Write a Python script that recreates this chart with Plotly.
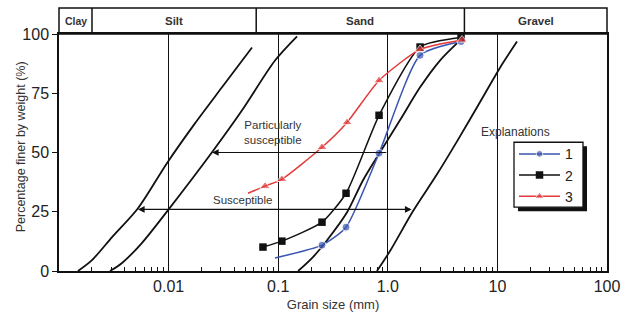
import numpy as np
import plotly.graph_objects as go

# ---------------- data ----------------
# sample curves (grain size mm, % finer); first point of 1 and 3 is the line start (no marker)
s1_x = [0.0935, 0.251, 0.416, 0.832, 1.97, 4.66]
s1_y = [5.5, 10.9, 18.5, 49.7, 91.0, 96.8]
s2_x = [0.0726, 0.108, 0.251, 0.416, 0.832, 1.97, 4.66]
s2_y = [10.1, 12.6, 20.6, 32.8, 65.7, 94.5, 98.5]
s3_x = [0.053, 0.0759, 0.108, 0.251, 0.425, 0.832, 1.97, 4.75]
s3_y = [32.8, 35.8, 38.7, 52.2, 62.7, 80.4, 93.5, 97.5]

# envelope curves
envA_x = [0.00149, 0.0020, 0.00305, 0.00526, 0.00966, 0.0174, 0.0307, 0.0577]
envA_y = [0, 4.6, 14.3, 26.5, 45.5, 62.3, 77.5, 94.3]
envB_x = [0.00292, 0.00376, 0.0057, 0.00989, 0.0249, 0.0468, 0.0935, 0.1486]
envB_y = [0, 3.4, 11.8, 25.7, 50.1, 67.8, 88.8, 99.0]
envC_x = [0.152, 0.2075, 0.279, 0.425, 0.594, 0.849, 1.29, 1.97, 2.99, 4.56]
envC_y = [0, 5.9, 13.0, 24.8, 38.3, 50.1, 63.6, 77.5, 88.8, 97.3]
envD_x = [0.796, 1.047, 1.70, 2.81, 4.28, 6.93, 10.6, 15.1]
envD_y = [0, 8.4, 25.3, 40.8, 54.7, 71.2, 85.9, 96.8]

# soil classes (boundaries in mm)
class_names = ["Clay", "Silt", "Sand", "Gravel"]
class_bounds = [0.001, 0.002, 0.063, 5.0, 100]

# arrows: (x_from, x_to, y)
arrow_part = [1.0, 0.0249, 50]
arrow_susc = [1.70, 0.00526, 26]

x_ticks = [0.01, 0.1, 1, 10, 100]
x_ticktext = ["0.01", "0.1", "1.0", "10", "100"]
y_ticks = [0, 25, 50, 75, 100]
minor_vals = [m * 10.0 ** e for e in range(-3, 2) for m in range(2, 10)]

BLUE = "#3a55b0"
RED = "#e23a3a"
BLACK = "#111111"
FONT = "Liberation Sans, Arial, sans-serif"

fig = go.Figure()

for ex, ey in [(envA_x, envA_y), (envB_x, envB_y), (envC_x, envC_y), (envD_x, envD_y)]:
    fig.add_trace(go.Scatter(x=ex, y=ey, mode="lines", showlegend=False,
                             line=dict(color=BLACK, width=1.8, shape="spline", smoothing=0.8),
                             hoverinfo="skip"))

fig.add_trace(go.Scatter(x=s1_x, y=s1_y, mode="lines+markers", name="1",
                         line=dict(color=BLUE, width=1.5, shape="spline", smoothing=0.6),
                         marker=dict(symbol="circle", size=[0] + [8] * (len(s1_x) - 1), color=BLUE)))
fig.add_trace(go.Scatter(x=s2_x, y=s2_y, mode="lines+markers", name="2",
                         line=dict(color=BLACK, width=1.5, shape="spline", smoothing=0.6),
                         marker=dict(symbol="square", size=7.5, color=BLACK)))
fig.add_trace(go.Scatter(x=s3_x, y=s3_y, mode="lines+markers", name="3",
                         line=dict(color=RED, width=1.5, shape="spline", smoothing=0.6),
                         marker=dict(symbol="triangle-up", size=[0] + [9] * (len(s3_x) - 1), color=RED)))

# header band
HB = 1.1095
shapes = [dict(type="rect", xref="paper", yref="paper", x0=0, x1=1, y0=1, y1=HB,
               line=dict(color=BLACK, width=1.5), fillcolor="rgba(0,0,0,0)")]
for b in class_bounds[1:-1]:
    shapes.append(dict(type="line", xref="x", yref="paper", x0=b, x1=b, y0=1, y1=HB,
                       line=dict(color=BLACK, width=1.5)))
# legend box with drop shadow
shapes.append(dict(type="rect", xref="paper", yref="paper", x0=0.8376, x1=0.9635, y0=0.2526, y1=0.5263,
                   fillcolor=BLACK, line=dict(width=0), layer="above"))
shapes.append(dict(type="rect", xref="paper", yref="paper", x0=0.8303, x1=0.9562, y0=0.2695, y1=0.5432,
                   fillcolor="white", line=dict(color=BLACK, width=1.3), layer="above"))

annotations = []
for i, nm in enumerate(class_names):
    c = (np.log10(class_bounds[i]) + np.log10(class_bounds[i + 1])) / 2
    annotations.append(dict(x=c, y=(1 + HB) / 2, xref="x", yref="paper", yanchor="middle",
                            text=f"<b>{nm}</b>", showarrow=False,
                            font=dict(family=FONT, size=11.5 if nm != "Clay" else 10.5, color="#333")))

annotations.append(dict(x=np.log10(arrow_part[1]), y=arrow_part[2], ax=np.log10(arrow_part[0]), ay=arrow_part[2],
                        xref="x", yref="y", axref="x", ayref="y", text="", showarrow=True,
                        arrowhead=2, arrowsize=1.2, arrowwidth=1.1, arrowcolor=BLACK))
annotations.append(dict(x=np.log10(arrow_susc[1]), y=arrow_susc[2], ax=np.log10(arrow_susc[0]), ay=arrow_susc[2],
                        xref="x", yref="y", axref="x", ayref="y", text="", showarrow=True, arrowside="end+start",
                        arrowhead=2, startarrowhead=2, arrowsize=1.2, startarrowsize=1.2,
                        arrowwidth=1.1, arrowcolor=BLACK))
annotations.append(dict(x=-1.047, y=58.5, xref="x", yref="y", text="Particularly<br>susceptible",
                        showarrow=False, font=dict(family=FONT, size=11.5, color="#333")))
annotations.append(dict(x=-1.33, y=29.9, xref="x", yref="y", text="Susceptible",
                        showarrow=False, font=dict(family=FONT, size=11.5, color="#333")))
annotations.append(dict(x=0.9, y=0.585, xref="paper", yref="paper", text="Explanations",
                        showarrow=False, font=dict(family=FONT, size=12, color="#333")))
# y-axis title
annotations.append(dict(x=-0.0693, y=0.522, xref="paper", yref="paper", textangle=-90,
                        xanchor="center", yanchor="middle", showarrow=False,
                        text="Percentage finer by weight (%)",
                        font=dict(family=FONT, size=12.5, color="#333")))

fig.update_layout(
    width=623, height=324,
    margin=dict(l=59, r=16, t=34, b=53),
    paper_bgcolor="white", plot_bgcolor="white",
    font=dict(family=FONT, color="#222"),
    shapes=shapes, annotations=annotations,
    showlegend=True,
    legend=dict(x=0.8303, y=0.560, xanchor="left", yanchor="top",
                bgcolor="rgba(0,0,0,0)", borderwidth=0,
                font=dict(family=FONT, size=14, color="#222"),
                itemwidth=41, tracegroupgap=0),
    xaxis=dict(type="log", range=[-3, 2], tickvals=x_ticks, ticktext=x_ticktext, automargin=False,
               showgrid=True, gridcolor=BLACK, gridwidth=1.3,
               ticks="inside", ticklen=6, tickcolor=BLACK,
               minor=dict(tickvals=minor_vals, ticks="inside", ticklen=4, tickcolor=BLACK, showgrid=False),
               showline=True, linecolor=BLACK, linewidth=1.5, mirror=True, zeroline=False,
               tickfont=dict(family=FONT, size=16, color="#222"),
               title=dict(text="Grain size (mm)", font=dict(family=FONT, size=13, color="#333"), standoff=6)),
    yaxis=dict(range=[0, 100], tickvals=y_ticks, showgrid=False, zeroline=False, automargin=False,
               ticks="outside", ticklen=5, tickcolor=BLACK,
               showline=True, linecolor=BLACK, linewidth=1.5, mirror=True,
               tickfont=dict(family=FONT, size=16, color="#222")),
)

# remove the default 8px page margin so the figure fills the window exactly
fig.write_html("out.html", config={"displayModeBar": False},
               post_script="document.body.style.margin='0px';document.body.style.overflow='hidden';")
